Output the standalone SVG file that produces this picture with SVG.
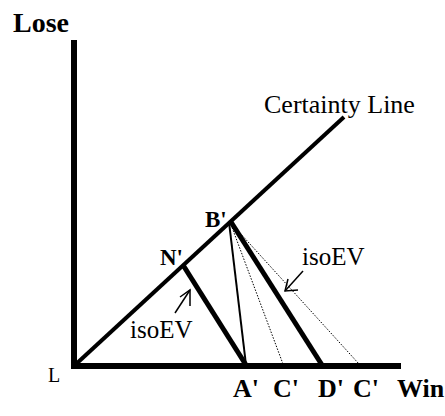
<svg xmlns="http://www.w3.org/2000/svg" width="445" height="416" viewBox="0 0 445 416">
<style>
.b{font-family:"Liberation Serif","Times New Roman",serif;font-weight:bold;fill:#000}
.r{font-family:"Liberation Serif","Times New Roman",serif;fill:#000}
.k{stroke:#000;fill:none}
</style>
<rect width="445" height="416" fill="#fff"/>
<g id="axes">
<line class="k" x1="74" y1="40" x2="74" y2="369" stroke-width="6"/>
<line class="k" x1="71" y1="366" x2="401" y2="366" stroke-width="6"/>
</g>
<g id="connectors">
<line id="certainty" class="k" x1="75" y1="365" x2="344" y2="117" stroke-width="4"/>
<line class="k" x1="183" y1="265" x2="246" y2="365" stroke-width="5"/>
<line class="k" x1="231" y1="222" x2="322" y2="365" stroke-width="5"/>
<line class="k" x1="229" y1="222" x2="246" y2="365" stroke-width="2"/>
<line class="k" x1="230" y1="222" x2="283" y2="364" stroke-width="1" stroke-dasharray="1.5,1.5"/>
<line class="k" x1="230" y1="222" x2="359" y2="364" stroke-width="1" stroke-dasharray="1.5,1.5"/>
<g id="arrow1" class="k" stroke-width="1.5">
<line x1="175" y1="313" x2="190" y2="290"/>
<polyline points="180,297 190,290 190,306"/>
</g>
<g id="arrow2" class="k" stroke-width="1.5">
<line x1="303" y1="271" x2="285" y2="291"/>
<polyline points="288,279 285,291 298,290"/>
</g>
</g>
<g id="labels">
<text class="b" x="13" y="32" font-size="28">Lose</text>
<text class="b" x="397" y="397" font-size="26">Win</text>
<text class="r" x="48" y="382" font-size="20">L</text>
<text class="r" x="264" y="113" font-size="26">Certainty Line</text>
<text class="b" x="205" y="227" font-size="23">B'</text>
<text class="b" x="160" y="265" font-size="23">N'</text>
<text class="r" x="130" y="338" font-size="25">isoEV</text>
<text class="r" x="302" y="265" font-size="25">isoEV</text>
<text class="b" x="233" y="397" font-size="26">A'</text>
<text class="b" x="273" y="397" font-size="26">C'</text>
<text class="b" x="318" y="397" font-size="26">D'</text>
<text class="b" x="353" y="397" font-size="26">C'</text>
</g>
</svg>
